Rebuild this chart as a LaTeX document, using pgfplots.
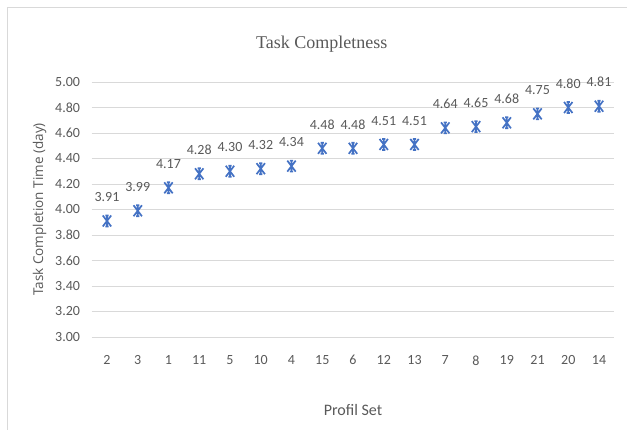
\documentclass[border=0pt]{standalone}
\usepackage{fontspec}
\setmainfont{Carlito}
\newfontfamily\titlefont{Liberation Serif}
\newfontfamily\ylabfont{Open Sans}
\usepackage{pgfplots}
\pgfplotsset{compat=1.18}
\definecolor{txt}{HTML}{595959}
\definecolor{grd}{HTML}{D9D9D9}
\definecolor{ser}{HTML}{4472C4}
\pgfdeclareplotmark{xstar}{%
  \pgfpathmoveto{\pgfpoint{-4.2pt}{-5.5pt}}\pgfpathlineto{\pgfpoint{4.2pt}{5.5pt}}%
  \pgfpathmoveto{\pgfpoint{-4.2pt}{5.5pt}}\pgfpathlineto{\pgfpoint{4.2pt}{-5.5pt}}%
  \pgfpathmoveto{\pgfpoint{0pt}{-5.5pt}}\pgfpathlineto{\pgfpoint{0pt}{5.5pt}}%
  \pgfpathmoveto{\pgfpoint{-1.6pt}{5.5pt}}\pgfpathlineto{\pgfpoint{1.6pt}{5.5pt}}%
  \pgfpathmoveto{\pgfpoint{-1.6pt}{-5.5pt}}\pgfpathlineto{\pgfpoint{1.6pt}{-5.5pt}}%
  \pgfusepathqstroke}
\begin{document}
\begin{tikzpicture}
\path[use as bounding box] (0pt,0pt) rectangle (627pt,430pt);
\draw[grd, line width=1.2pt] (7.5pt,0pt) -- (7.5pt,422.5pt) -- (627pt,422.5pt);
\begin{axis}[
  at={(91.6pt,93pt)}, anchor=south west,
  scale only axis, width=522.8pt, height=255pt,
  xmin=-0.5, xmax=16.5, ymin=3, ymax=5,
  ytick={3,3.2,...,5.01},
  xtick={0,...,16},
  xticklabels={2,3,1,11,5,10,4,15,6,12,13,7,8,19,21,20,14},
  axis line style={draw=none},
  major tick length=0pt,
  ymajorgrids, grid style={grd, line width=0.9pt},
  /pgf/number format/assume math mode=true,
  y tick label style={/pgf/number format/fixed, /pgf/number format/fixed zerofill, /pgf/number format/precision=2},
  ticklabel style={font=\fontsize{14}{16}\selectfont, text=txt},
  xticklabel style={yshift=-15pt},
  yticklabel style={xshift=-8pt},
  title={\titlefont Task Completness},
  title style={font=\fontsize{18}{20}\selectfont, text=txt, at={(0.44,1)}, yshift=20pt},
  xlabel={Profil Set},
  xlabel style={font=\fontsize{16}{18}\selectfont, text=txt, yshift=-32pt},
  ylabel={\ylabfont Task Completion Time (day)},
  ylabel style={font=\fontsize{13.5}{15}\selectfont, text=txt, yshift=2pt},
  nodes near coords,
  nodes near coords style={font=\fontsize{14}{16}\selectfont, text=txt, /pgf/number format/fixed, /pgf/number format/fixed zerofill, /pgf/number format/precision=2, yshift=15pt},
]
\addplot[only marks, mark=xstar, ser, line width=1.7pt] coordinates {
(0,3.91) (1,3.99) (2,4.17) (3,4.28) (4,4.30) (5,4.32) (6,4.34) (7,4.48) (8,4.48)
(9,4.51) (10,4.51) (11,4.64) (12,4.65) (13,4.68) (14,4.75) (15,4.80) (16,4.81)};
\end{axis}
\end{tikzpicture}
\end{document}
